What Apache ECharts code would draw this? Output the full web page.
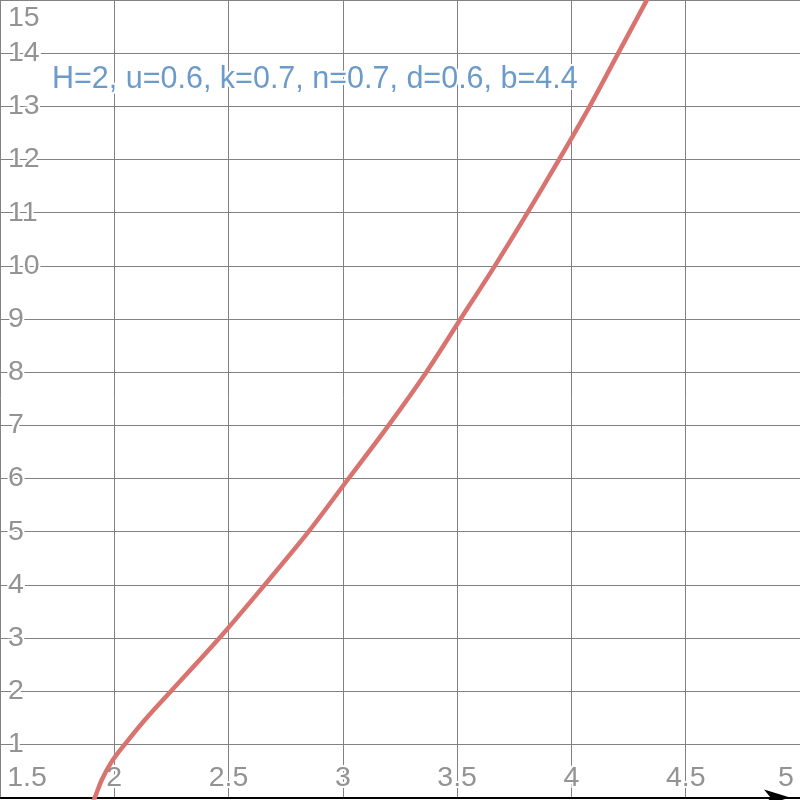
<!DOCTYPE html>
<html><head><meta charset="utf-8">
<script src="https://cdn.jsdelivr.net/npm/echarts@6/dist/echarts.min.js"></script>
<style>html,body{margin:0;padding:0;background:#fff}#c{width:800px;height:800px}</style>
</head><body><div id="c"></div>
<script>
// Curve points (x, y)
const curveX = [1.905, 1.915, 1.945, 1.988, 2.046, 2.142, 2.248, 2.460, 2.658, 2.850, 3.025, 3.200, 3.365, 3.515, 3.665, 3.808, 3.946, 4.080, 4.205, 4.325, 4.345];
const curveY = [-0.1, 0.0, 0.33, 0.67, 1.0, 1.5, 2.0, 3.0, 4.0, 5.0, 6.0, 7.0, 8.0, 9.0, 10.0, 11.0, 12.0, 13.0, 14.0, 14.96, 15.12];
const xTickLabels = ['1.5', '2', '2.5', '3', '3.5', '4', '4.5', '5'];
const yTickLabels = ['1','2','3','4','5','6','7','8','9','10','11','12','13','14','15'];
const annotation = 'H=2, u=0.6, k=0.7, n=0.7, d=0.6, b=4.4';

const FONT = '"Liberation Sans", Arial, sans-serif';
const tickStyle = {color: '#939393', fontSize: 28.5, fontFamily: FONT, textBorderColor: '#ffffff', textBorderWidth: 4};

const chart = echarts.init(document.getElementById('c'), null, {renderer: 'canvas'});
chart.setOption({
  animation: false,
  backgroundColor: '#ffffff',
  grid: {left: -2, right: 0, top: -0.5, bottom: 2.5, containLabel: false},
  xAxis: {
    type: 'value', min: 1.5, max: 5, interval: 0.5,
    axisLine: {show: true, onZero: false, lineStyle: {color: '#000000', width: 2},
      symbol: ['none', 'arrow'], symbolSize: [12, 26], symbolOffset: [0, -10]},
    axisTick: {show: false},
    splitLine: {show: true, lineStyle: {color: '#828282', width: 1}},
    axisLabel: Object.assign({}, tickStyle, {
      inside: true, margin: 5,
      formatter: function (v) {
        const s = String(+v.toFixed(2));
        if (!xTickLabels.includes(s)) return '';
        if (s === xTickLabels[0]) return '{first|' + s + '}';
        if (s === xTickLabels[xTickLabels.length - 1]) return '{last|' + s + '}';
        return s;
      },
      rich: {
        first: Object.assign({}, tickStyle, {padding: [0, 0, 0, 54]}),
        last: Object.assign({}, tickStyle, {padding: [0, 28, 0, 0]})
      }
    }),
    z: 1
  },
  yAxis: {
    type: 'value', min: 0, max: 15, interval: 1,
    axisLine: {show: false},
    axisTick: {show: false},
    splitLine: {show: true, lineStyle: {color: '#828282', width: 1}},
    axisLabel: Object.assign({}, tickStyle, {
      inside: true, margin: 8,
      formatter: function (v) {
        const s = String(Math.round(v));
        if (!yTickLabels.includes(s)) return '';
        if (s === yTickLabels[yTickLabels.length - 1]) return '{top|' + s + '}';
        return s;
      },
      rich: {
        top: Object.assign({}, tickStyle, {padding: [37, 0, 0, 0]})
      }
    })
  },
  graphic: [{
    type: 'text', left: 50, top: 62, z: 50,
    style: {text: annotation, fill: '#6c9bca', font: '30.5px ' + FONT, stroke: '#ffffff', lineWidth: 4}
  }],
  series: [{
    type: 'line',
    data: curveX.map((x, i) => [x, curveY[i]]),
    smooth: 0.3,
    showSymbol: false,
    clip: true,
    lineStyle: {color: '#d8736f', width: 4.5},
    z: 10
  }]
});
</script>
</body></html>
